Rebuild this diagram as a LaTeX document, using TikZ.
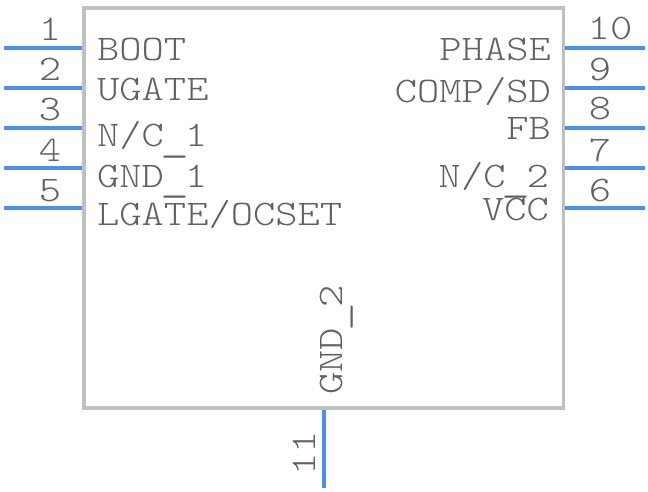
\documentclass[tikz,border=0pt]{standalone}
\usepackage{fontspec}
\setmonofont[FakeStretch=1.178]{Latin Modern Mono Light}
\newcommand{\lowus}{\makebox[21pt]{\raisebox{-3.2pt}{\scalebox{1.3}[1.2]{\_}}}}
\definecolor{txt}{HTML}{626262}
\definecolor{bodyc}{HTML}{C0C0C0}
\definecolor{pinc}{HTML}{4A90F0}
\tikzset{
  chipbox/.style={draw=bodyc,line width=3.6pt,fill=white,minimum width=479.5pt,minimum height=400pt,inner sep=0pt},
  pinline/.style={draw=pinc,line width=3.8pt},
  lbl/.style={text=txt,inner sep=0pt,font=\fontsize{36}{36}\selectfont\ttfamily},
  lleft/.style={lbl,anchor=base west},
  lright/.style={lbl,anchor=base east},
  num/.style={lbl,anchor=base},
}
\begin{document}
\begin{tikzpicture}[x=1pt,y=-1pt]
\useasboundingbox (0,0) rectangle (648,492);
\node[chipbox] (chip) at (323.75,208) {};
% pins
\foreach \n/\y in {1/48,2/88,3/128,4/168,5/208}{
  \coordinate (a\n) at (4,\y);
  \coordinate (b\n) at (chip.west |- a\n);
  \draw[pinline] (a\n) -- (b\n);
}
\foreach \n/\y in {10/48,9/88,8/128,7/168,6/208}{
  \coordinate (a\n) at (645,\y);
  \coordinate (b\n) at (chip.east |- a\n);
  \draw[pinline] (a\n) -- (b\n);
}
\coordinate (a11) at (324,488);
\coordinate (b11) at (a11 |- chip.south);
\draw[pinline] (a11) -- (b11);
% pin numbers
\node[num] (n1) at (50,41) {1};
\node[num] (n2) at (50,81) {2};
\node[num] (n3) at (50,121) {3};
\node[num] (n4) at (50,161) {4};
\node[num] (n5) at (50,201) {5};
\node[num] (n10) at (610,40) {10};
\node[num] (n9) at (600,81) {9};
\node[num] (n8) at (600,120) {8};
\node[num] (n7) at (600,161) {7};
\node[num] (n6) at (600,201) {6};
\node[num,rotate=90] (n11) at (315.5,453.5) {11};
% left labels
\node[lleft] (t1) at (97,61) {BOOT};
\node[lleft] (t2) at (97,101) {UGATE};
\node[lleft] (t3) at (97,147) {N/C\lowus1};
\node[lleft] (t4) at (97,187) {GND\lowus1};
\node[lleft] (t5) at (97,225) {LGATE/OCSET};
% right labels
\node[lright] (t10) at (551,61) {PHASE};
\node[lright] (t9) at (551,103) {COMP/SD};
\node[lright] (t8) at (551,140) {FB};
\node[lright] (t7) at (549,187) {N/C\lowus2};
\node[lright] (t6) at (549,220) {VCC};
\node[lbl,rotate=90,anchor=base west] (t11) at (342,395) {GND\lowus2};
\end{tikzpicture}
\end{document}
